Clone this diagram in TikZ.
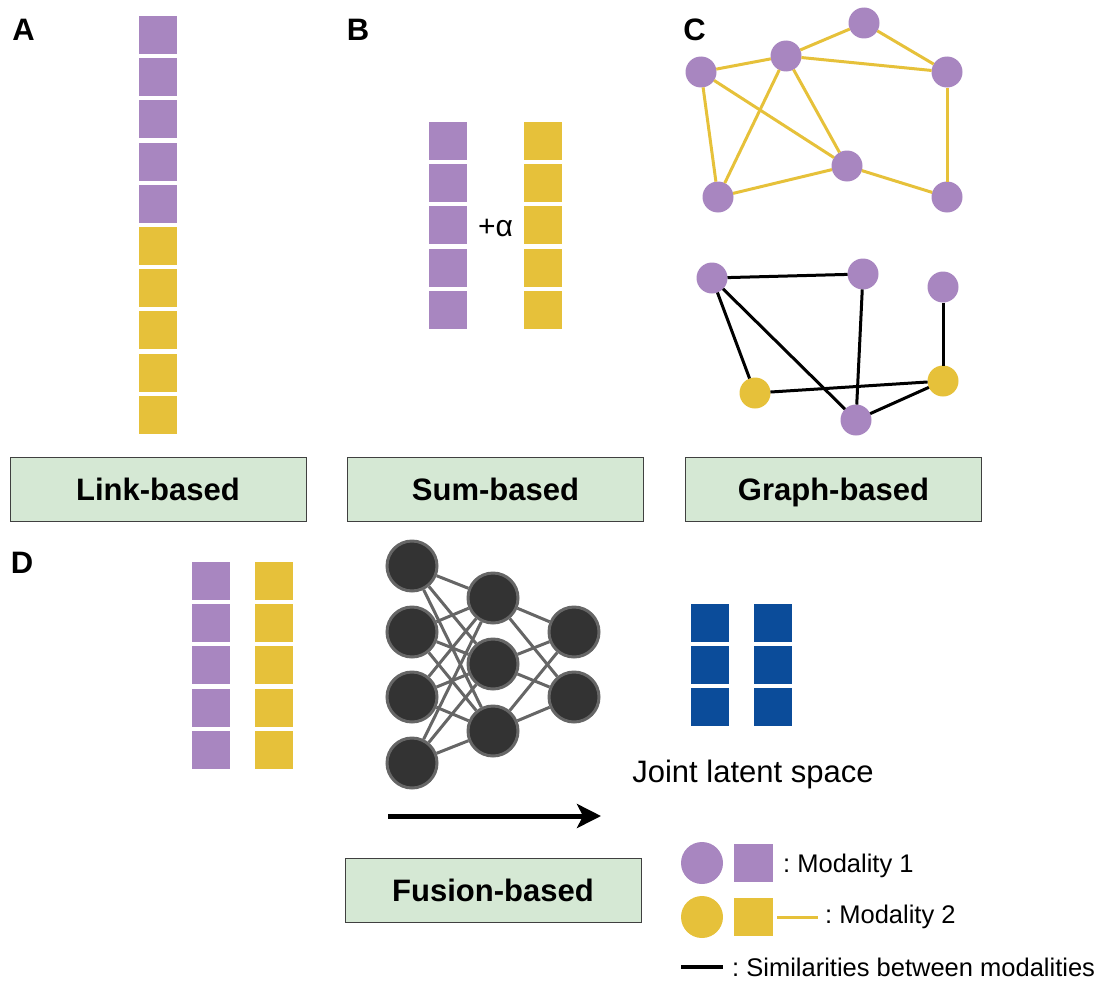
\documentclass[tikz,border=0pt]{standalone}
\usepackage{fontspec}
\setmainfont{Liberation Sans}
\usepackage{xcolor}
\usetikzlibrary{positioning,arrows.meta}
\definecolor{viola}{HTML}{A886C0}
\definecolor{giallo}{HTML}{E6C13A}
\definecolor{blu}{HTML}{0B4C9A}
\definecolor{verde}{HTML}{D5E8D4}
\definecolor{nodoscuro}{HTML}{333333}
\definecolor{grigio}{HTML}{666666}
\frenchspacing
\tikzset{
    cella/.style={
        rectangle,
        minimum width=38pt,
        minimum height=38pt,
        inner sep=0pt,
        outer sep=0pt
    },
    mod1/.style={cella, fill=viola},
    mod2/.style={cella, fill=giallo},
    latente/.style={cella, fill=blu},
    vertice/.style={circle, minimum size=31pt, inner sep=0pt, outer sep=0pt},
    vviola/.style={vertice, fill=viola},
    vgiallo/.style={vertice, fill=giallo},
    arcogiallo/.style={giallo, line width=3pt},
    arconero/.style={black, line width=3pt},
    etichetta/.style={
        rectangle,
        draw=black!75,
        line width=1pt,
        fill=verde,
        minimum width=296pt,
        minimum height=64pt,
        text height=22pt,
        text depth=0pt,
        font=\fontsize{31}{37}\selectfont\bfseries
    },
    lettera/.style={inner sep=0pt, font=\fontsize{31}{37}\selectfont\bfseries},
    neurone/.style={circle, fill=nodoscuro, draw=grigio, line width=3pt, minimum size=50pt, inner sep=0pt},
    sinapsi/.style={grigio, line width=3pt},
    legenda/.style={inner sep=0pt, anchor=base west, font=\fontsize{25.5}{31}\selectfont}
}

\begin{document}
\begin{tikzpicture}[x=1pt,y=-1pt]
    \useasboundingbox (0,0) rectangle (1099,982);

    % Lettere
    \node[lettera] (lA) at (23.5,29.5) {A};
    \node[lettera] (lB) at (358,30) {B};
    \node[lettera] (lC) at (694.5,30) {C};
    \node[lettera] (lD) at (22,563) {D};

    % A: concatenazione
    \foreach \i in {1,...,5}
        \node[mod1] (a\i) at (158,{35+(\i-1)*42.2}) {};
    \foreach \i in {6,...,10}
        \node[mod2] (a\i) at (158,{35+(\i-1)*42.2}) {};

    % B: somma
    \foreach \i in {1,...,5}
    {
        \node[mod1] (bp\i) at (448,{141+(\i-1)*42.2}) {};
        \node[mod2] (by\i) at (543,{141+(\i-1)*42.2}) {};
    }
    \node[inner sep=0pt, font=\fontsize{30}{36}\selectfont] (alfa) at (495.5,228) {+α};

    % C: grafo superiore
    \node[vviola] (g1) at (864,23) {};
    \node[vviola] (g2) at (786,56) {};
    \node[vviola] (g3) at (701,72) {};
    \node[vviola] (g4) at (947,72) {};
    \node[vviola] (g5) at (847,166) {};
    \node[vviola] (g6) at (718,197) {};
    \node[vviola] (g7) at (947,197) {};
    \foreach \p/\q in {g2/g1, g1/g4, g3/g2, g2/g4, g3/g6, g3/g5, g2/g6, g2/g5, g6/g5, g5/g7, g4/g7}
        \draw[arcogiallo] (\p) -- (\q);

    % C: grafo inferiore
    \node[vviola] (h1) at (712,278) {};
    \node[vviola] (h2) at (863,274) {};
    \node[vviola] (h3) at (943,287) {};
    \node[vgiallo] (h4) at (755,393) {};
    \node[vgiallo] (h5) at (943,381) {};
    \node[vviola] (h6) at (856,420) {};
    \foreach \p/\q in {h1/h2, h1/h4, h1/h6, h2/h6, h3/h5, h4/h5, h6/h5}
        \draw[arconero] (\p) -- (\q);

    % Etichette
    \node[etichetta] (link) at (158,489) {Link-based};
    \node[etichetta] (sum) at (495.5,489) {Sum-based};
    \node[etichetta] (graph) at (833.5,489) {Graph-based};
    \node[etichetta] (fusion) at (493,890) {Fusion-based};

    % D: ingresso
    \foreach \i in {1,...,5}
    {
        \node[mod1] (dp\i) at (211,{581+(\i-1)*42.2}) {};
        \node[mod2] (dy\i) at (274,{581+(\i-1)*42.2}) {};
    }

    % Rete neurale
    \foreach \j/\y in {1/566, 2/632, 3/697, 4/763}
        \node[neurone] (n1\j) at (412,\y) {};
    \foreach \j/\y in {1/598, 2/664, 3/731}
        \node[neurone] (n2\j) at (493,\y) {};
    \foreach \j/\y in {1/632, 2/697}
        \node[neurone] (n3\j) at (574,\y) {};
    \foreach \i in {1,...,4}
        \foreach \j in {1,...,3}
            \draw[sinapsi] (n1\i) -- (n2\j);
    \foreach \i in {1,...,3}
        \foreach \j in {1,2}
            \draw[sinapsi] (n2\i) -- (n3\j);

    \coordinate (fstart) at (388,816);
    \coordinate (fend) at (601,816);
    \draw[line width=5pt, -{Stealth[length=24pt,width=24pt,inset=6pt]}] (fstart) -- (fend);

    % Spazio latente
    \foreach \i in {1,2,3}
    {
        \node[latente] (jl\i) at (710,{623+(\i-1)*42}) {};
        \node[latente] (jr\i) at (773,{623+(\i-1)*42}) {};
    }
    \node[inner sep=0pt, anchor=base, font=\fontsize{31}{37}\selectfont] (joint) at (753,782) {Joint latent space};

    % Legenda
    \node[vertice, fill=viola, minimum size=42pt] (c1) at (702,863) {};
    \node[mod1, minimum width=39pt] (q1) at (753.5,863) {};
    \node[legenda] (t1) at (783,872) {: Modality 1};
    \node[vertice, fill=giallo, minimum size=42pt] (c2) at (702,917) {};
    \node[mod2, minimum width=39pt] (q2) at (753.5,916.5) {};
    \coordinate (y1) at (777,917);
    \coordinate (y2) at (818,917);
    \draw[arcogiallo] (y1) -- (y2);
    \node[legenda] (t2) at (825,923) {: Modality 2};
    \coordinate (k1) at (681,967);
    \coordinate (k2) at (723,967);
    \draw[black, line width=3.5pt] (k1) -- (k2);
    \node[legenda] (t3) at (732,976) {: Similarities between modalities};
\end{tikzpicture}
\end{document}
